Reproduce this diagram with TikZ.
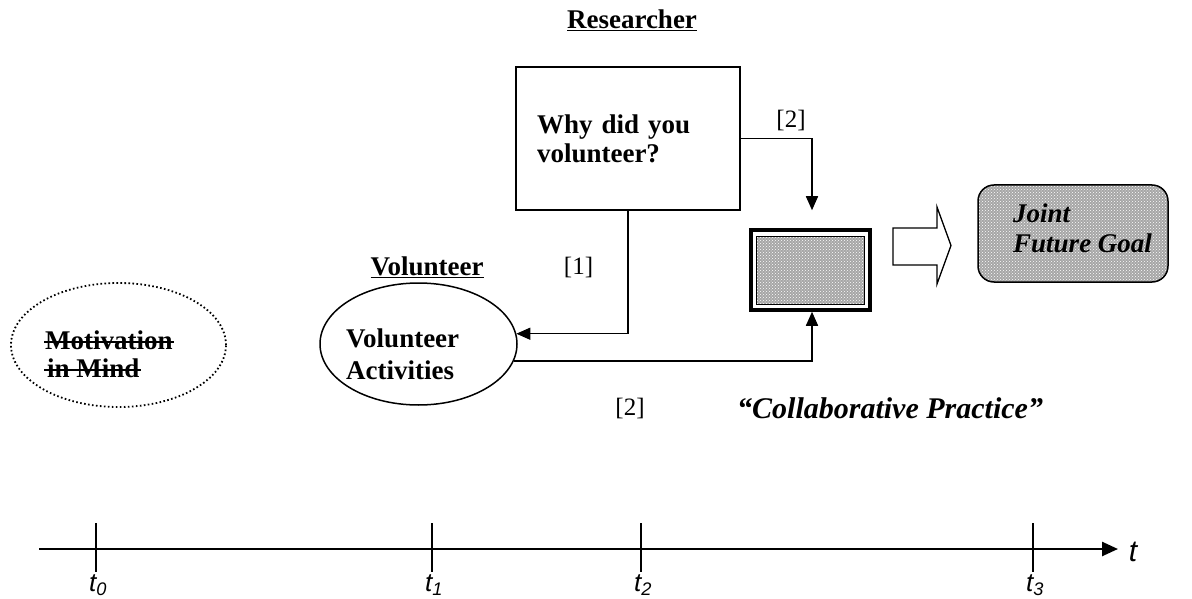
\documentclass[tikz,border=0pt]{standalone}
\usepackage{fontspec}
\setmainfont{Liberation Serif}
\newfontfamily\tsans{Liberation Sans}
\usetikzlibrary{shapes.geometric,arrows.meta,calc,patterns}
\begin{document}
\begin{tikzpicture}[x=1pt,y=-1pt,
  lbl/.style={font=\fontsize{27}{31}\selectfont\bfseries, inner sep=0pt},
  brk/.style={font=\fontsize{25}{29}\selectfont, inner sep=0pt},
  tlab/.style={font=\fontsize{26}{30}\selectfont\tsans\itshape, inner sep=0pt},
  conn/.style={line width=1.5pt, -{Triangle[length=14pt,width=12pt]}},
  wire/.style={line width=1.5pt},
  strike/.style={line width=1.8pt},
  noisy/.style={preaction={fill=gray!70}, pattern=crosshatch dots, pattern color=white},
  qbox/.style={draw, line width=1.5pt, minimum width=224pt, minimum height=143pt,
    text width=182pt, align=left, font=\fontsize{27}{29}\selectfont\bfseries},
]
\useasboundingbox (0,0) rectangle (1192,599);

% Researcher
\node[lbl] (res) at (632,20) {\underline{Researcher}};
\node[qbox] (Q) at (628,138.5) {Why did you\\volunteer?};
\node[brk] (l2a) at (791,120) {[2]};

% small collaborative box
\node[draw, line width=3.5pt, minimum width=119pt, minimum height=80pt, inner sep=0pt] (S) at (810.5,270) {};
\node[draw, line width=1pt, noisy, minimum width=108pt, minimum height=68pt, inner sep=0pt] (Si) at (S.center) {};

% volunteer
\node[lbl] (vl) at (427,267) {\underline{Volunteer}};
\node[ellipse, draw, line width=1.5pt, minimum width=197pt, minimum height=122pt, inner sep=0pt] (V) at (418.5,344) {};
\node[lbl, align=left, anchor=west, font=\fontsize{27}{32}\selectfont\bfseries] (Vt) at (346,354) {Volunteer\\Activities};
\node[brk] (l1) at (578.5,267) {[1]};
\node[brk] (l2b) at (630,408) {[2]};

% connectors
\draw[conn] (Q.east) -| ($(S.north)+(1.5,-18)$);
\draw[conn] (Q.south) |- (V.6);
\draw[conn] (V.-10.5) -| ($(S.south)+(1.5,0)$);

% block arrow
\draw[line width=1.3pt, line join=miter]
  (893,228) -- (937,228) -- (937,207) -- (951,245.5) -- (937,284) -- (937,265) -- (893,265) -- cycle;

% joint future goal
\node[draw, line width=1.5pt, rounded corners=16pt, noisy, minimum width=190pt, minimum height=97pt, inner sep=0pt] (J) at (1073,233.5) {};
\node[font=\fontsize{27}{30}\selectfont\bfseries\itshape, align=left, anchor=west, inner sep=0pt] (Jt) at (1013,228) {Joint\\Future Goal};

% motivation in mind
\node[ellipse, draw, line width=1.8pt, dash pattern=on 1.6pt off 2.4pt, minimum width=215pt, minimum height=124pt, inner sep=0pt] (M) at (118.5,345) {};
\node[lbl, anchor=west] (M1) at (45,340) {Motivation};
\node[lbl, anchor=west] (M2) at (47,368) {in Mind};
\draw[strike] ($(M1.west)+(-1,2)$) -- ($(M1.east)+(1,2)$);
\draw[strike] ($(M2.west)+(-3,2)$) -- ($(M2.east)+(1,2)$);

% collaborative practice
\node[font=\fontsize{30}{34}\selectfont\bfseries\itshape, anchor=west, inner sep=0pt] (cp) at (737,408) {“Collaborative Practice”};

% timeline
\coordinate (ta) at (39,549);
\coordinate (tb) at (1118,549);
\draw[line width=2.5pt, -{Triangle[length=16pt,width=14pt]}] (ta) -- (tb);
\node[tlab, font=\fontsize{30}{34}\selectfont\tsans\itshape] (tt) at (1133,552) {t};
\foreach \x/\n in {96/0,432/1,641/2,1033/3}{
  \draw[wire] (\x,523) -- (\x,572);
  \node[tlab] (tk\n) at (\x+2,585) {t\textsubscript{\n}};
}
\end{tikzpicture}
\end{document}
